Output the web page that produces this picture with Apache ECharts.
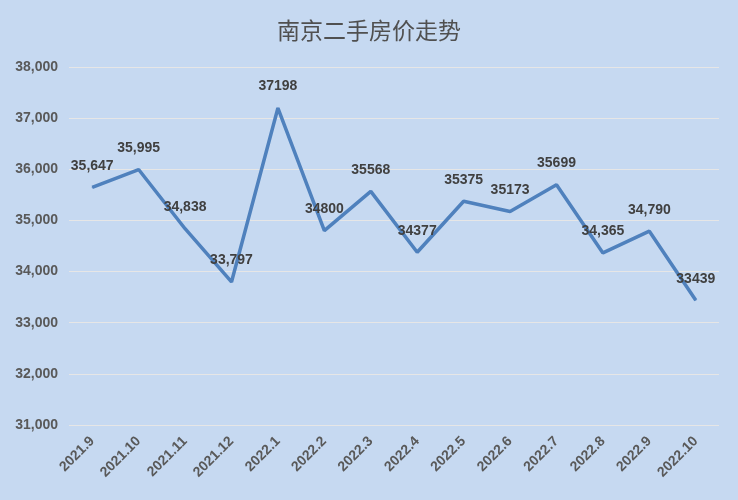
<!DOCTYPE html>
<html>
<head>
<meta charset="utf-8">
<script src="https://cdn.jsdelivr.net/npm/echarts@6/dist/echarts.min.js"></script>
<style>html,body{margin:0;padding:0;}#c{width:738px;height:500px;}</style>
</head>
<body>
<div id="c"></div>
<script>
const months = ['2021.9','2021.10','2021.11','2021.12','2022.1','2022.2','2022.3','2022.4','2022.5','2022.6','2022.7','2022.8','2022.9','2022.10'];
const prices = [35647, 35995, 34838, 33797, 37198, 34800, 35568, 34377, 35375, 35173, 35699, 34365, 34790, 33439];
const pointLabels = ['35,647','35,995','34,838','33,797','37198','34800','35568','34377','35375','35173','35699','34,365','34,790','33439'];

const chart = echarts.init(document.getElementById('c'));
chart.setOption({
    backgroundColor: '#c6d9f1',
    title: {
        text: '南京二手房价走势', left: 'center', top: 14,
        textStyle: { fontSize: 23, fontWeight: 'normal', color: '#505050', fontFamily: 'Noto Sans CJK SC' }
    },
    grid: { left: 69, right: 19, top: 67, bottom: 75 },
    xAxis: {
        type: 'category', data: months,
        axisLine: { show: false }, axisTick: { show: false },
        axisLabel: { rotate: 45, margin: 14, color: '#595959', fontWeight: 'bold', fontSize: 14, fontFamily: 'Liberation Sans', interval: 0 }
    },
    yAxis: {
        type: 'value', min: 31000, max: 38000, interval: 1000,
        axisLabel: {
            color: '#595959', fontWeight: 'bold', fontSize: 14, fontFamily: 'Liberation Sans', margin: 11,
            formatter: v => v.toLocaleString('en-US')
        },
        splitLine: { lineStyle: { color: '#e6e6e6', width: 1 } }
    },
    series: [{
        type: 'line', data: prices, symbol: 'circle', symbolSize: 1, showSymbol: true,
        itemStyle: { color: '#4f81bd' },
        lineStyle: { color: '#4f81bd', width: 3.5 },
        label: {
            show: true, position: 'top', distance: 14,
            color: '#404040', fontWeight: 'bold', fontSize: 14, fontFamily: 'Liberation Sans',
            formatter: p => pointLabels[p.dataIndex]
        }
    }]
});
</script>
</body>
</html>
